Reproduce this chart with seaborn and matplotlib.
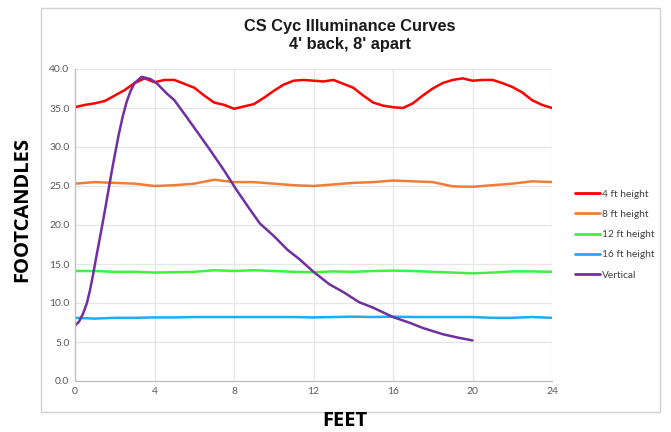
import numpy as np
import pandas as pd
import matplotlib
matplotlib.use("Agg")
import matplotlib.pyplot as plt
import seaborn as sns
from matplotlib.patches import Rectangle

# ---- data ----
x_half = [i * 0.5 for i in range(49)]
h4 = [35.1, 35.4, 35.6, 35.9, 36.6, 37.3, 38.2, 38.8, 38.3, 38.6, 38.6, 38.1, 37.6, 36.6,
      35.7, 35.4, 34.9, 35.2, 35.5, 36.3, 37.2, 38.0, 38.5, 38.6, 38.5, 38.4, 38.6, 38.1,
      37.6, 36.6, 35.7, 35.3, 35.1, 35.0, 35.6, 36.6, 37.5, 38.2, 38.6, 38.8, 38.5, 38.6,
      38.6, 38.2, 37.7, 37.0, 36.0, 35.4, 35.0]
x_one = list(range(25))
h8 = [25.3, 25.5, 25.4, 25.3, 25.0, 25.1, 25.3, 25.8, 25.5, 25.5, 25.3, 25.1, 25.0, 25.2,
      25.4, 25.5, 25.7, 25.6, 25.5, 24.95, 24.9, 25.1, 25.3, 25.6, 25.5]
h12 = [14.1, 14.1, 14.0, 14.0, 13.9, 13.95, 14.0, 14.2, 14.1, 14.2, 14.1, 14.0, 13.95, 14.05,
       14.0, 14.1, 14.15, 14.1, 14.0, 13.9, 13.8, 13.9, 14.05, 14.05, 14.0]
h16 = [8.1, 8.0, 8.1, 8.1, 8.15, 8.15, 8.2, 8.2, 8.2, 8.2, 8.2, 8.2, 8.15, 8.2, 8.25, 8.2,
       8.25, 8.2, 8.2, 8.2, 8.2, 8.1, 8.1, 8.2, 8.1]
x_vert = [0, 0.2, 0.4, 0.6, 0.75, 0.9, 1.1, 1.3, 1.5, 1.7, 1.9, 2.2, 2.4, 2.6, 2.8, 3.0,
          3.35, 3.8, 4.1, 4.6, 5.0, 5.6, 6.3, 6.8, 7.5, 8.1, 8.8, 9.3, 10.0, 10.7, 11.3,
          12.0, 12.8, 13.5, 14.3, 15.0, 16.0, 16.8, 17.5, 18.5, 19.2, 20.0]
vert = [7.1, 7.6, 8.6, 10.0, 11.6, 13.5, 16.3, 19.0, 21.8, 24.7, 27.6, 31.6, 33.9, 35.8,
        37.2, 38.2, 39.0, 38.7, 38.2, 36.9, 36.0, 33.9, 31.4, 29.6, 27.0, 24.6, 22.0, 20.2,
        18.6, 16.8, 15.6, 14.0, 12.4, 11.4, 10.1, 9.4, 8.2, 7.5, 6.8, 6.0, 5.6, 5.2]
series_names = ["4 ft height", "8 ft height", "12 ft height", "16 ft height", "Vertical"]
colors = ["#FF0000", "#F07D35", "#44EE44", "#1AAEF5", "#7030A0"]
y_ticks = [0, 5, 10, 15, 20, 25, 30, 35, 40]
x_ticks = [0, 4, 8, 12, 16, 20, 24]
title = "CS Cyc Illuminance Curves\n4' back, 8' apart"

frames = []
for name, xs, ys in zip(series_names, [x_half, x_one, x_one, x_one, x_vert],
                        [h4, h8, h12, h16, vert]):
    frames.append(pd.DataFrame({"x": xs, "y": ys, "series": name}))
df = pd.concat(frames, ignore_index=True)

sns.set_theme(style="white")
plt.rcParams['font.family'] = ['Lato', 'DejaVu Sans']

fig = plt.figure(figsize=(6.71, 4.32), dpi=100)
ax = fig.add_axes([75 / 671, 1 - 381 / 432, (552 - 75) / 671, (381 - 69) / 432])

# outer chart border
fig.patches.append(Rectangle((41 / 671, 1 - 412 / 432), (660 - 41) / 671, (412 - 8) / 432,
                             transform=fig.transFigure, fill=False, edgecolor="#D0D0D0",
                             linewidth=1.0))

sns.lineplot(data=df, x="x", y="y", hue="series", hue_order=series_names,
             palette=colors, estimator=None, sort=False, linewidth=1.8, ax=ax)

ax.set_xlim(0, 24)
ax.set_ylim(0, 40)
ax.set_xticks(x_ticks)
ax.set_yticks(y_ticks)
ax.set_yticklabels([f"{v:.1f}" for v in y_ticks])
ax.tick_params(axis="both", labelsize=7.5, colors="#595959", length=0, pad=4)
ax.grid(True, color="#E6E6E6", linewidth=0.9)
ax.set_axisbelow(True)
for s in ["top", "right"]:
    ax.spines[s].set_visible(False)
for s in ["left", "bottom"]:
    ax.spines[s].set_color("#BFBFBF")
    ax.spines[s].set_linewidth(0.9)
ax.set_xlabel("")
ax.set_ylabel("")

leg = ax.legend(loc="upper left", bbox_to_anchor=(575 / 671, 1 - 189.5 / 432),
                bbox_transform=fig.transFigure, frameon=False,
                fontsize=7.3, handlelength=2.5, handletextpad=0.15, labelspacing=1.1,
                borderaxespad=0, borderpad=0)
for t in leg.get_texts():
    t.set_color("#404040")
for l in leg.get_lines():
    l.set_linewidth(2.0)

fig.text(350 / 671, 1 - 36 / 432, title, ha="center", va="center", fontsize=11.8,
         fontweight="bold", family=["Liberation Sans", "DejaVu Sans"], linespacing=1.25,
         color="#1A1A1A")
fig.text(22 / 671, 1 - 210 / 432, "FOOTCANDLES", rotation=90, ha="center", va="center",
         fontsize=14.5, fontweight="bold", family=["Open Sans", "DejaVu Sans"], color="black")
fig.text(345 / 671, 1 - 421 / 432, "FEET", ha="center", va="center",
         fontsize=14.5, fontweight="bold", family=["Open Sans", "DejaVu Sans"], color="black")

fig.savefig("out.png", dpi=100)
